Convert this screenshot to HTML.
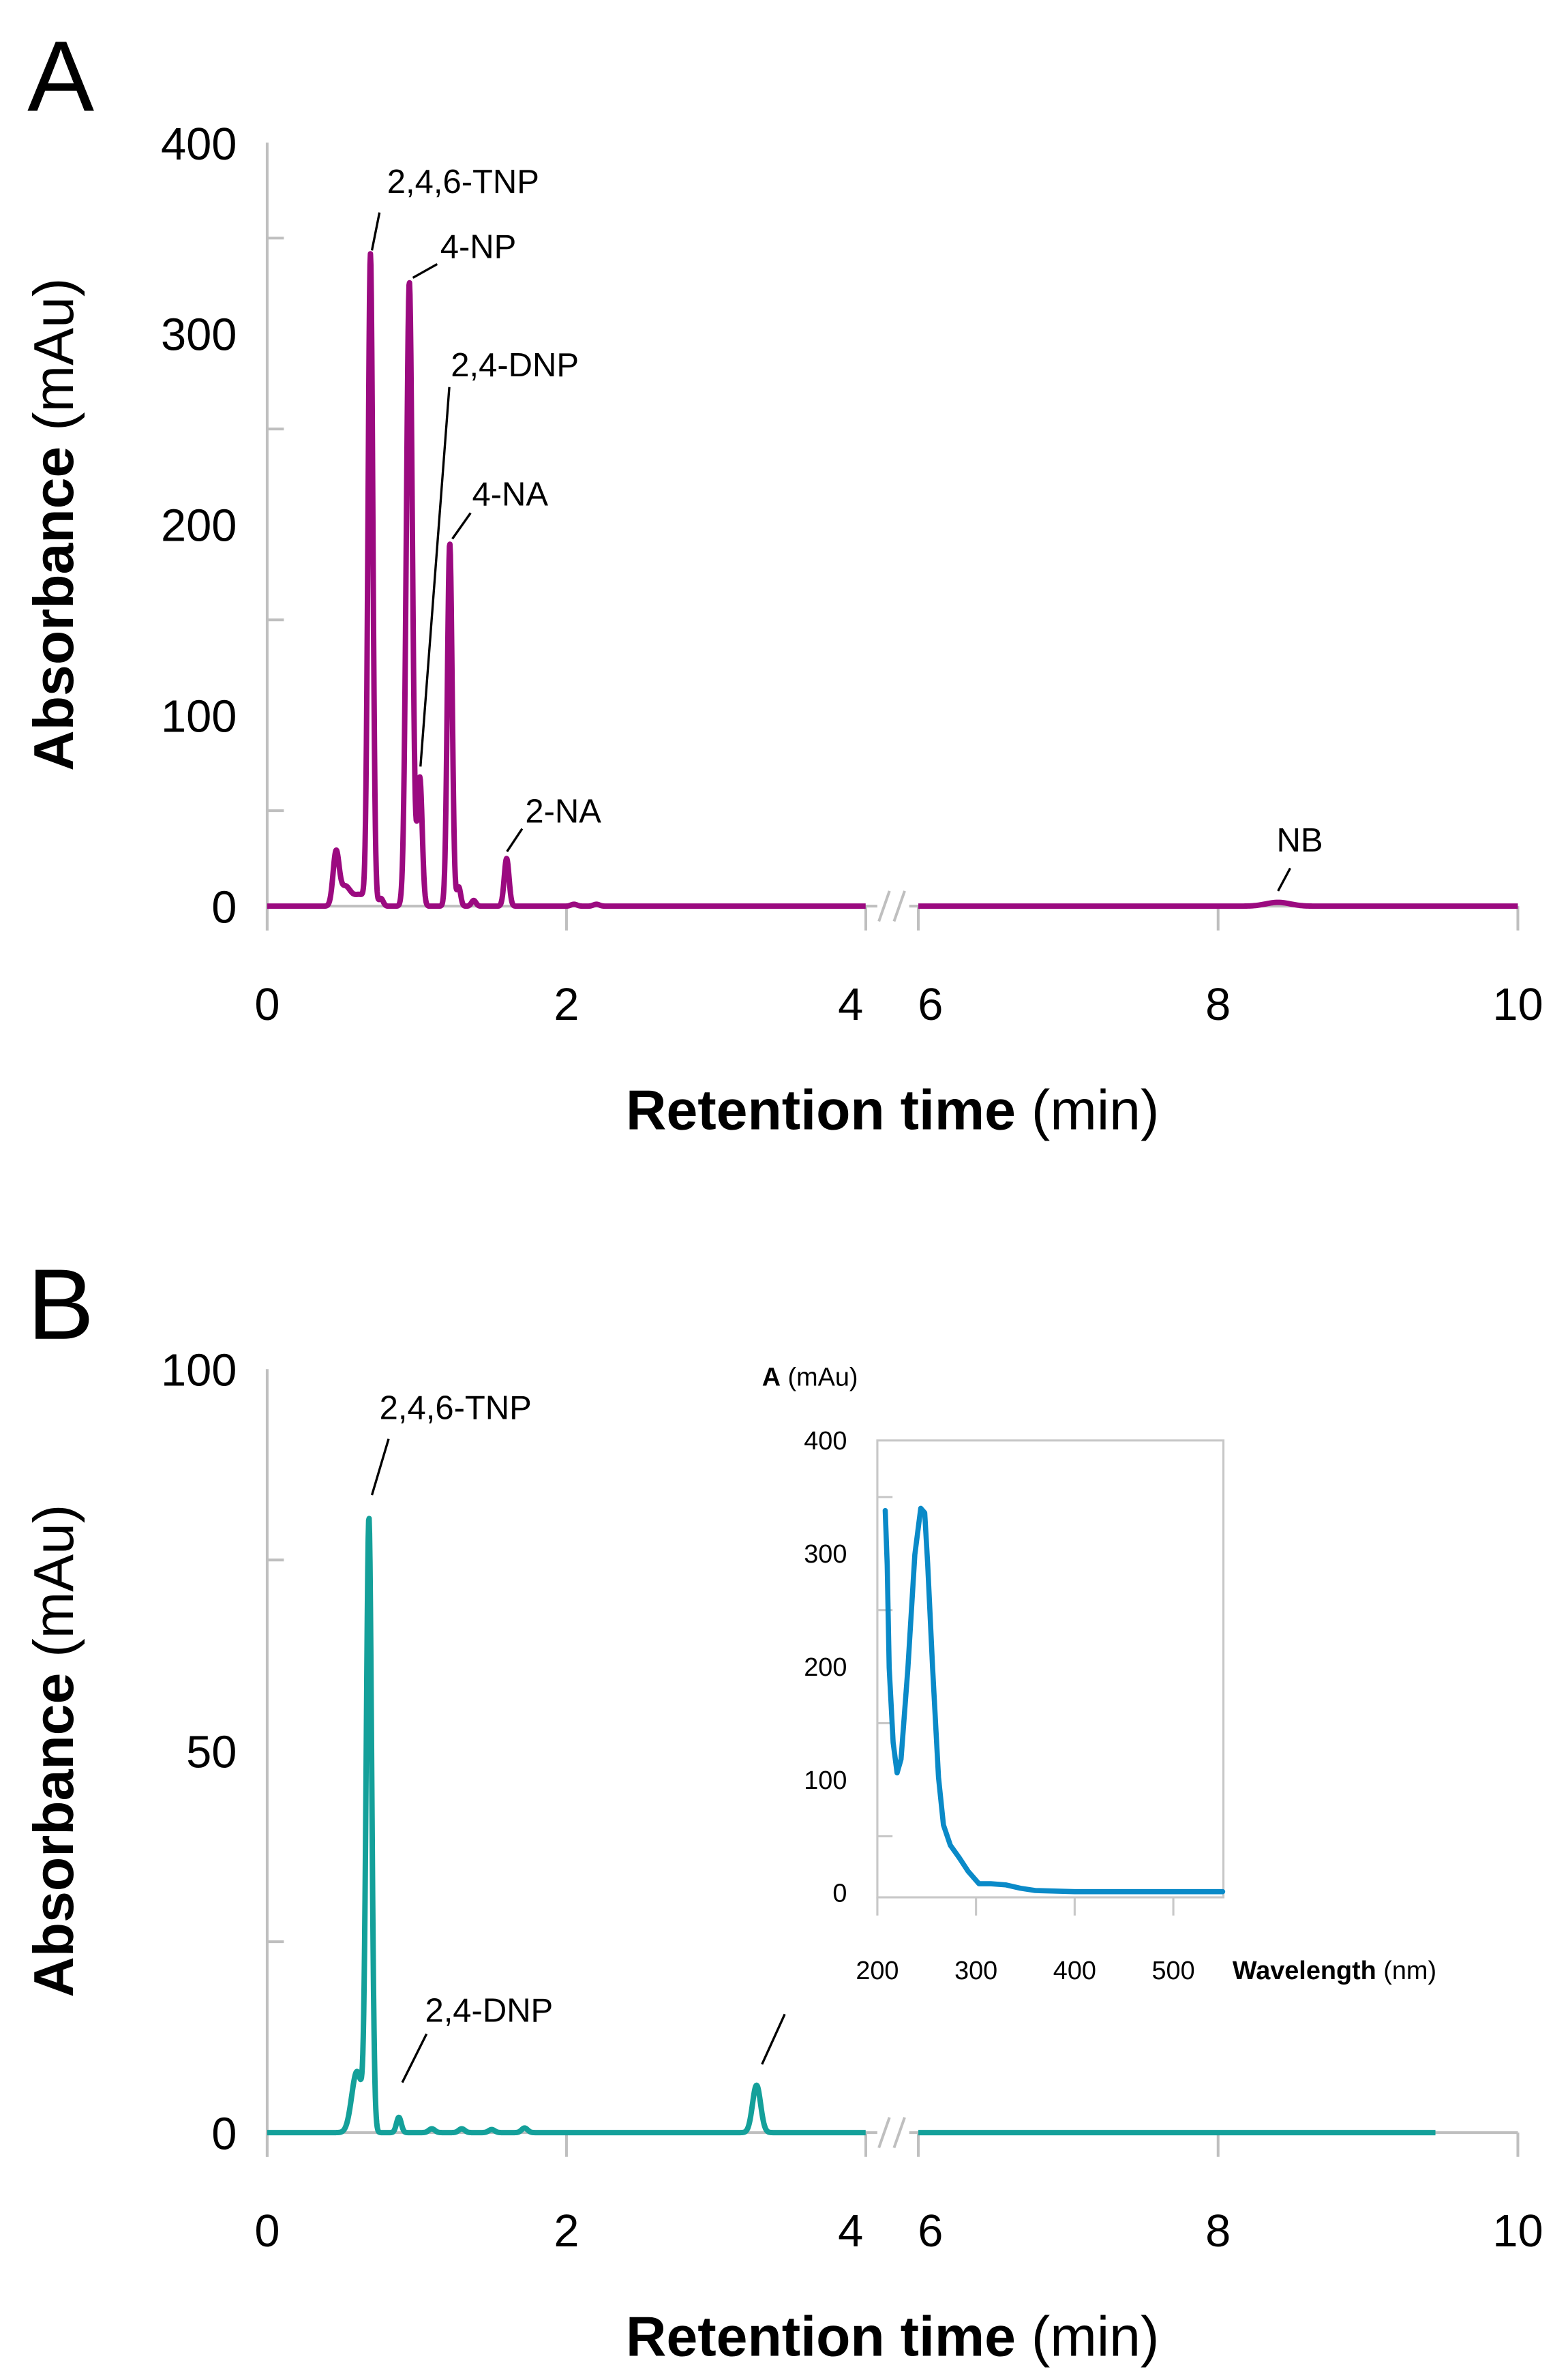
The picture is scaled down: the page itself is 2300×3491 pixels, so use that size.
<!DOCTYPE html>
<html><head><meta charset="utf-8"><style>
html,body{margin:0;padding:0;background:#fff;}
svg{display:block;font-family:"Liberation Sans",sans-serif;}
</style></head><body>
<svg id="fig" width="2300" height="3491" viewBox="0 0 1033 1568" xmlns="http://www.w3.org/2000/svg">
<g id="panelA"></g>
<g id="panelB"></g>
<g id="inset"></g>
</svg>
<script>
// Panel A data (retention time min, peak height mAu, sigma min)
const peaksA_t = [0.46, 0.52, 0.62, 0.69, 0.76, 0.95, 1.02, 1.22, 1.28, 1.38, 1.60, 2.05, 2.2, 8.4];
const peaksA_h = [27, 10, 6, 340, 4, 327, 67, 190, 10, 3, 25, 1, 1, 2];
const peaksA_s = [0.02, 0.035, 0.045, 0.016, 0.015, 0.02, 0.016, 0.016, 0.013, 0.015, 0.016, 0.02, 0.02, 0.08];
const ticksA_y = [0, 100, 200, 300, 400];
// Panel B data
const peaksB_t = [0.6, 0.68, 0.88, 1.1, 1.3, 1.5, 1.72, 3.27];
const peaksB_h = [8, 80, 2, 0.5, 0.5, 0.4, 0.6, 6.2];
const peaksB_s = [0.035, 0.018, 0.016, 0.02, 0.02, 0.02, 0.02, 0.027];
const ticksB_y = [0, 50, 100];
const ticksX = [0, 2, 4, 6, 8, 10];
// Inset spectrum
const specNm = [208, 210, 212, 216, 220, 224, 231, 238, 244, 248, 251, 256, 262, 267, 274, 283, 292, 303, 315, 330, 345, 360, 400, 450, 500, 550];
const specA = [338, 290, 199, 133, 106, 118, 199, 299, 340, 336, 291, 199, 102, 60, 42, 31, 19, 8, 8, 7, 4, 2, 1, 1, 1, 1];
const insetTicksY = [0, 100, 200, 300, 400];
const insetTicksX = [200, 300, 400, 500];

const NS = "http://www.w3.org/2000/svg";
function mk(parent, tag, attrs, text){
  const e = document.createElementNS(NS, tag);
  for (const k in attrs) e.setAttribute(k, attrs[k]);
  if (text !== undefined) e.textContent = text;
  parent.appendChild(e); return e;
}
function xMap(t){ return t <= 4.5 ? 176 + t*98.6 : 605 + (t-6)*98.75; }
function sig(t, T, H, S){ let v=0; for(let i=0;i<T.length;i++){ const d=(t-T[i])/S[i]; v+=H[i]*Math.exp(-0.5*d*d);} return v; }

function panel(g, y0, yTop, ymax, ticksY, T, H, S, color, tEnd, letter, letterY){
  const yMap = v => y0 - (v/ymax)*(y0-yTop);
  const axis = "#bfbfbf";
  const l = mk(g,'text',{x:18,y:letterY,'font-size':66});
  l.textContent = letter;
  
  
  const ya = mk(g,'line',{x1:176,y1:yTop,x2:176,y2:y0+16,stroke:axis,'stroke-width':1.8});
  
  
  for (let i=0;i<ticksY.length-1;i++){
    const v=(ticksY[i]+ticksY[i+1])/2;
    const tk = mk(g,'line',{x1:176,y1:yMap(v),x2:187,y2:yMap(v),stroke:axis,'stroke-width':1.8});
    
    
  }
  ticksY.forEach(v=>{
    const t = mk(g,'text',{x:156,y:yMap(v)+11,'font-size':30,'text-anchor':'end'}, String(v));
    
    
  });
  const xa1 = mk(g,'line',{x1:176,y1:y0,x2:578,y2:y0,stroke:axis,'stroke-width':1.8});
  
  
  const xa2 = mk(g,'line',{x1:599,y1:y0,x2:1000,y2:y0,stroke:axis,'stroke-width':1.8});
  
  
  const br = mk(g,'path',{d:`M579 ${y0+10} L586 ${y0-10} M589 ${y0+10} L596 ${y0-10}`,stroke:axis,'stroke-width':1.8,fill:'none'});
  
  
  ticksX.forEach(v=>{
    const x=xMap(v);
    const tk = mk(g,'line',{x1:x,y1:y0,x2:x,y2:y0+16,stroke:axis,'stroke-width':1.8});
    
    
    let lx = x; if (v===4) lx = x-10; if (v===6) lx = x+8;
    const t = mk(g,'text',{x:lx,y:y0+75,'font-size':30,'text-anchor':'middle'}, String(v));
    
    
  });
  let d1 = "", d2 = "";
  for (let t=0; t<=4.0001; t+=0.003){ d1 += (d1?"L":"M")+xMap(t).toFixed(2)+" "+yMap(sig(t,T,H,S)).toFixed(2); }
  for (let t=6; t<=tEnd+0.0001; t+=0.01){ d2 += (d2?"L":"M")+xMap(t).toFixed(2)+" "+yMap(sig(t,T,H,S)).toFixed(2); }
  const p1 = mk(g,'path',{d:d1,stroke:color,'stroke-width':3.6,fill:'none','stroke-linejoin':'round'});
  
  
  const p2 = mk(g,'path',{d:d2,stroke:color,'stroke-width':3.6,fill:'none','stroke-linejoin':'round'});
  
  
  const xt = mk(g,'text',{x:588,y:y0+147,'font-size':37,'text-anchor':'middle'});
  mk(xt,'tspan',{'font-weight':'bold'},'Retention time');
  mk(xt,'tspan',{},' (min)');
  
  
  const cy = (y0+yTop)/2;
  const yt = mk(g,'text',{x:0,y:0,'font-size':37,'text-anchor':'middle',transform:`translate(48 ${cy}) rotate(-90)`});
  mk(yt,'tspan',{'font-weight':'bold'},'Absorbance');
  mk(yt,'tspan',{},' (mAu)');
  
  
}
function ann(g, label, tx, ty, x1, y1, x2, y2){
  const t = mk(g,'text',{x:tx,y:ty+8,'font-size':22}, label);
  
  
  const l = mk(g,'line',{x1:x1,y1:y1,x2:x2,y2:y2,stroke:'#000','stroke-width':1.5});
  
  
}
const gA = document.getElementById('panelA');
panel(gA, 597, 94, 400, ticksA_y, peaksA_t, peaksA_h, peaksA_s, '#9b0a80', 10, 'A', 73);
ann(gA,'2,4,6-TNP',255,119,250,140,245,165);
ann(gA,'4-NP',290,162,288,174,272,183);
ann(gA,'2,4-DNP',297,240,296,255,277,505);
ann(gA,'4-NA',311,325,310,338,298,355);
ann(gA,'2-NA',346,534,344,546,334,561);
ann(gA,'NB',841,553,850,572,842,587);

const gB = document.getElementById('panelB');
panel(gB, 1405, 902, 100, ticksB_y, peaksB_t, peaksB_h, peaksB_s, '#14a09a', 9.45, 'B', 882);
ann(gB,'2,4,6-TNP',250,927,256,948,245,985);
ann(gB,'2,4-DNP',280,1324,281,1340,265,1372);
const ul = mk(gB,'line',{x1:517,y1:1327,x2:502,y2:1360,stroke:'#000','stroke-width':1.5});



const gI = document.getElementById('inset');
const ix = nm => 578 + (nm-200)*0.65;
const iy = v => 1247 - v*0.745;
const fr = mk(gI,'rect',{x:578,y:949,width:228,height:301,fill:'none',stroke:'#c8c8c8','stroke-width':1.4});


[50,150,250,350].forEach(v=>{
  const tk = mk(gI,'line',{x1:578,y1:iy(v),x2:588,y2:iy(v),stroke:'#c8c8c8','stroke-width':1.4});
  
  
});
insetTicksY.forEach(v=>{
  const t = mk(gI,'text',{x:558,y:iy(v)+6,'font-size':17,'text-anchor':'end'}, String(v));
  
  
});
insetTicksX.forEach(v=>{
  const tk = mk(gI,'line',{x1:ix(v),y1:1250,x2:ix(v),y2:1262,stroke:'#c8c8c8','stroke-width':1.4});
  
  
  const t = mk(gI,'text',{x:ix(v),y:1304,'font-size':17,'text-anchor':'middle'}, String(v));
  
  
});
let ds = "";
specNm.forEach((nm,i)=>{ ds += (i?"L":"M")+ix(nm).toFixed(2)+" "+iy(specA[i]).toFixed(2); });
const sp = mk(gI,'path',{d:ds,stroke:'#0a8ac8','stroke-width':3.4,fill:'none','stroke-linejoin':'round','stroke-linecap':'round'});


const wt = mk(gI,'text',{x:812,y:1304,'font-size':17});
mk(wt,'tspan',{'font-weight':'bold'},'Wavelength');
mk(wt,'tspan',{},' (nm)');


const at = mk(gI,'text',{x:502,y:913,'font-size':17});
mk(at,'tspan',{'font-weight':'bold'},'A');
mk(at,'tspan',{},' (mAu)');


</script>
</body></html>
